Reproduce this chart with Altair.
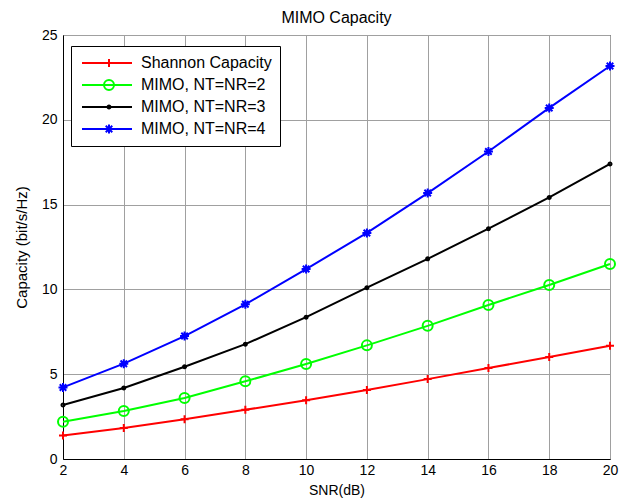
import altair as alt
import pandas as pd

FONT = "Liberation Sans"

snr = [2, 4, 6, 8, 10, 12, 14, 16, 18, 20]
shannon = [1.38, 1.83, 2.35, 2.90, 3.47, 4.07, 4.71, 5.36, 6.02, 6.68]
mimo2 = [2.20, 2.83, 3.60, 4.58, 5.60, 6.70, 7.85, 9.08, 10.26, 11.50]
mimo3 = [3.18, 4.19, 5.44, 6.77, 8.36, 10.10, 11.80, 13.58, 15.42, 17.40]
mimo4 = [4.22, 5.62, 7.25, 9.12, 11.20, 13.33, 15.68, 18.13, 20.70, 23.17]

series_names = ["Shannon Capacity", "MIMO, NT=NR=2", "MIMO, NT=NR=3", "MIMO, NT=NR=4"]
colors = ["#ff0000", "#00ff00", "#000000", "#0000ff"]
shapes = [
    "M-0.8,0H0.8M0,-0.8V0.8",
    "circle",
    "M-0.3,0A0.3,0.3 0 1,0 0.3,0A0.3,0.3 0 1,0 -0.3,0Z",
    "M-0.9,0H0.9M0,-0.9V0.9M-0.65,-0.65L0.65,0.65M-0.65,0.65L0.65,-0.65",
]
x_ticks = [2, 4, 6, 8, 10, 12, 14, 16, 18, 20]
y_ticks = [0, 5, 10, 15, 20, 25]

rows = []
for name, vals in zip(series_names, [shannon, mimo2, mimo3, mimo4]):
    for s, v in zip(snr, vals):
        rows.append({"snr": s, "cap": v, "series": name})
df = pd.DataFrame(rows)

x = alt.X(
    "snr:Q",
    scale=alt.Scale(domain=[2, 20], nice=False, zero=False),
    axis=alt.Axis(values=x_ticks, title="SNR(dB)", format="d"),
)
y = alt.Y(
    "cap:Q",
    scale=alt.Scale(domain=[0, 25], nice=False),
    axis=alt.Axis(values=y_ticks, title="Capacity (bit/s/Hz)", format="d"),
)

line_legend = alt.Legend(
    title=None, orient="none", legendX=8, legendY=11,
    symbolType="stroke", symbolSize=2500, symbolStrokeWidth=2,
    labelFont=FONT, labelFontSize=16, labelColor="black",
    fillColor="white", strokeColor="black", padding=8,
    clipHeight=18, rowPadding=4, symbolOffset=2, labelOffset=8,
)
point_legend = alt.Legend(
    title=None, orient="none", legendX=8, legendY=11,
    symbolStrokeWidth=2, symbolSize=100,
    labelFont=FONT, labelFontSize=16, labelExpr="''",
    padding=8, clipHeight=18, rowPadding=4, symbolOffset=22, labelOffset=0,
)

lines = alt.Chart(df).mark_line(strokeWidth=2).encode(
    x=x, y=y,
    color=alt.Color("series:N", sort=series_names,
                    scale=alt.Scale(domain=series_names, range=colors),
                    legend=line_legend),
)

points = alt.Chart(df).mark_point(filled=False, strokeWidth=2, opacity=1, size=100).encode(
    x=x, y=y,
    color=alt.Color("series:N", sort=series_names,
                    scale=alt.Scale(domain=series_names, range=colors),
                    legend=point_legend),
    shape=alt.Shape("series:N", sort=series_names,
                    scale=alt.Scale(domain=series_names, range=shapes),
                    legend=point_legend),
)

chart = (
    alt.layer(lines, points)
    .resolve_scale(color="independent", shape="independent")
    .properties(
        width=547,
        height=424,
        title=alt.Title("MIMO Capacity", font=FONT, fontSize=16, fontWeight="normal",
                        color="black", anchor="middle", offset=2),
        autosize=alt.AutoSizeParams(type="none"),
        padding={"left": 55, "top": 27, "right": 9, "bottom": 42},
        background="white",
    )
    .configure_view(stroke="black", strokeWidth=1)
    .configure_axis(
        labelFont=FONT, labelFontSize=14, labelColor="black",
        titleFont=FONT, titleFontWeight="normal", titleColor="black",
        domainColor="black", domainWidth=1,
        gridColor="#a0a0a0", gridWidth=1, gridOpacity=1,
        tickSize=0, labelPadding=5, labelFlush=False,
    )
    .configure_axisX(titleFontSize=14, titlePadding=6, labelPadding=4)
    .configure_axisY(titleFontSize=15, titlePadding=12, labelPadding=6)
)

chart.save("out.html", embed_options={"renderer": "svg", "actions": False})
